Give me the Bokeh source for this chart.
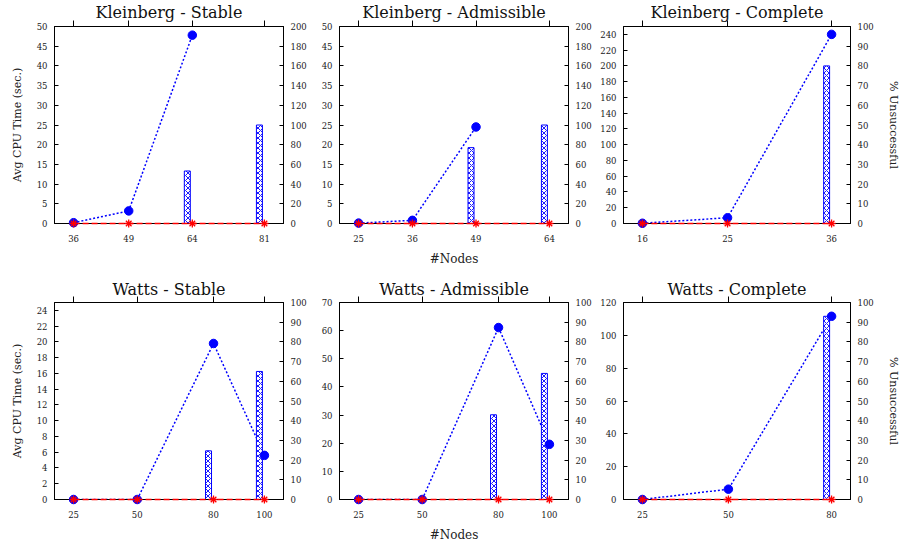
import numpy as np
from bokeh.plotting import figure
from bokeh.models import Range1d, LinearAxis, FixedTicker
from bokeh.layouts import row, column
from bokeh.embed import file_html
from bokeh.resources import INLINE

# ---------------- data ----------------
titles = ["Kleinberg - Stable", "Kleinberg - Admissible", "Kleinberg - Complete",
          "Watts - Stable", "Watts - Admissible", "Watts - Complete"]

nodes_k_stable = [36, 49, 64, 81]
cpu_k_stable = [0.2, 3.2, 47.8, np.nan]
unsucc_k_stable = [0, 0, 53.3, 100]
zero_k_stable = [0, 0, 0, 0]

nodes_k_adm = [25, 36, 49, 64]
cpu_k_adm = [0.1, 0.8, 24.5, np.nan]
unsucc_k_adm = [0, 0, 77, 100]
zero_k_adm = [0, 0, 0, 0]

nodes_k_comp = [16, 25, 36]
cpu_k_comp = [0.3, 7.3, 240]
unsucc_k_comp = [0, 0, 80]
zero_k_comp = [0, 0, 0]

nodes_w_stable = [25, 50, 80, 100]
cpu_w_stable = [0, 0, 19.8, 5.6]
unsucc_w_stable = [0, 0, 24.7, 65]
zero_w_stable = [0, 0, 0, 0]

nodes_w_adm = [25, 50, 80, 100]
cpu_w_adm = [0, 0, 61.1, 19.6]
unsucc_w_adm = [0, 0, 43, 64]
zero_w_adm = [0, 0, 0, 0]

nodes_w_comp = [25, 50, 80]
cpu_w_comp = [0, 6.3, 111.6]
unsucc_w_comp = [0, 0, 93]
zero_w_comp = [0, 0, 0]

# left axis: (max, tick step, last tick) ; right axis: (max, tick step)
left_axes = [(50, 5, 50), (50, 5, 50), (250, 20, 240), (25, 2, 24), (70, 10, 70), (120, 20, 120)]
right_axes = [(200, 20), (200, 20), (100, 10), (100, 10), (100, 10), (100, 10)]

FONT = "DejaVu Serif"
TICK_SIZE = "8.5px"


def make_panel(title, nodes, cpu, unsucc, zero, laxis, raxis, width, height,
               lb, rb, tb, bb, title_standoff, ylabel=None, rlabel=None, xlabel=None):
    nodes = np.array(nodes, dtype=float)
    span = nodes.max() - nodes.min()
    xmin, xmax = nodes.min() - 0.1 * span, nodes.max() + 0.1 * span
    frame_w = width - lb - rb
    px = (xmax - xmin) / frame_w

    p = figure(width=width, height=height, x_range=Range1d(xmin, xmax),
               y_range=Range1d(0, laxis[0]), output_backend="svg",
               toolbar_location=None, min_border_left=lb, min_border_right=rb,
               min_border_top=tb, min_border_bottom=bb)
    p.extra_y_ranges = {"pct": Range1d(0, raxis[0])}
    p.grid.visible = False
    p.outline_line_color = "black"
    p.outline_line_alpha = 1
    p.background_fill_color = "white"
    p.border_fill_color = "white"

    p.title.text = title
    p.title.align = "center"
    p.title.text_font = FONT
    p.title.text_font_size = "16px"
    p.title.text_font_style = "normal"
    p.title.text_color = "#111111"
    p.title.standoff = title_standoff

    # blue CPU line
    p.line(nodes, cpu, line_color="blue", line_width=1.5, line_dash="2 2")
    # bars (% unsuccessful)
    p.vbar(x=nodes - 5 * px, width=6 * px, top=unsucc, bottom=0, y_range_name="pct",
           fill_color="white", line_color="blue", line_width=1,
           hatch_pattern="diagonal_cross", hatch_color="blue", hatch_scale=5,
           hatch_weight=0.9)
    p.scatter(nodes, cpu, marker="circle", size=8.5, fill_color="blue",
              line_color="blue", level="overlay")
    # red zero series
    p.line(nodes, zero, line_color="red", line_width=1.4, line_dash="6 3", level="overlay")
    p.scatter(nodes, zero, marker="asterisk", size=8, line_color="red", line_width=1.3,
              level="overlay")

    # left axis
    ya = p.yaxis[0]
    ya.ticker = FixedTicker(ticks=list(range(0, laxis[2] + 1, laxis[1])))
    # right axis
    ra = LinearAxis(y_range_name="pct",
                    ticker=FixedTicker(ticks=list(range(0, raxis[0] + 1, raxis[1]))))
    p.add_layout(ra, "right")
    for ax in (ya, ra):
        ax.major_tick_in = 4
        ax.major_tick_out = 0
        ax.minor_tick_line_color = None
        ax.major_label_standoff = 7
        ax.axis_label_standoff = 10

    xa = p.xaxis[0]
    xa.ticker = FixedTicker(ticks=list(nodes))
    xa.major_tick_in = 0
    xa.major_tick_out = 0
    xa.minor_tick_line_color = None
    xa.major_label_standoff = 11
    xa.axis_label_standoff = 7

    # top axis: outward tick marks only (labels not drawn)
    ta = LinearAxis(ticker=FixedTicker(ticks=list(nodes)))
    ta.major_tick_in = 0
    ta.major_tick_out = 6
    ta.minor_tick_line_color = None
    ta.major_label_text_font_size = "1px"
    ta.major_label_text_color = None
    ta.major_label_standoff = 0
    ta.axis_line_color = "black"
    ta.major_tick_line_color = "black"
    p.add_layout(ta, "above")

    for ax in (ya, ra, xa):
        ax.axis_line_color = "black"
        ax.major_tick_line_color = "black"
        ax.major_label_text_font = FONT
        ax.major_label_text_font_size = TICK_SIZE
        ax.major_label_text_color = "#222222"
        ax.axis_label_text_font = FONT
        ax.axis_label_text_font_size = "11px"
        ax.axis_label_text_font_style = "normal"
        ax.axis_label_text_color = "#222222"

    if ylabel:
        ya.axis_label = ylabel
    if rlabel:
        ra.axis_label = rlabel
    if xlabel:
        xa.axis_label = xlabel
        xa.axis_label_text_font_size = "12px"
    return p


data = [
    (nodes_k_stable, cpu_k_stable, unsucc_k_stable, zero_k_stable),
    (nodes_k_adm, cpu_k_adm, unsucc_k_adm, zero_k_adm),
    (nodes_k_comp, cpu_k_comp, unsucc_k_comp, zero_k_comp),
    (nodes_w_stable, cpu_w_stable, unsucc_w_stable, zero_w_stable),
    (nodes_w_adm, cpu_w_adm, unsucc_w_adm, zero_w_adm),
    (nodes_w_comp, cpu_w_comp, unsucc_w_comp, zero_w_comp),
]

# (width, left border, right border)
col_geom = [(311, 54, 28), (285, 28, 28), (306, 27, 50)]
# (height, top border, bottom border, title standoff)
row_geom = [(273, 26, 50, -2), (271, 29, 45, -4)]

figs = []
for i in range(6):
    r, c = divmod(i, 3)
    w, lb, rb = col_geom[c]
    h, tb, bb, ts = row_geom[r]
    nodes, cpu, uns, zero = data[i]
    figs.append(make_panel(
        titles[i], nodes, cpu, uns, zero, left_axes[i], right_axes[i], w, h, lb, rb, tb, bb, ts,
        ylabel="Avg CPU Time (sec.)" if c == 0 else None,
        rlabel="% Unsuccessful" if c == 2 else None,
        xlabel="#Nodes" if c == 1 else None))

layout = column(row(*figs[:3]), row(*figs[3:]))
open("out.html", "w").write(file_html(layout, INLINE))
